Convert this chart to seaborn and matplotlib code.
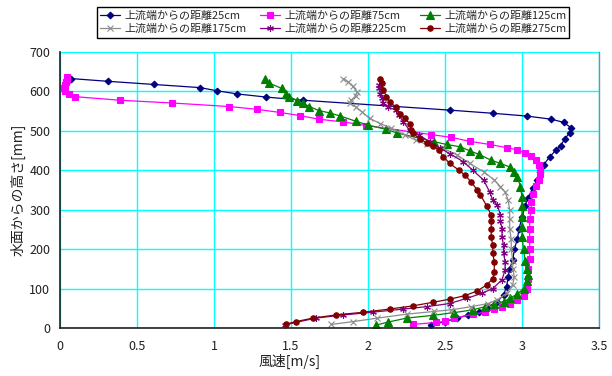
import matplotlib
matplotlib.use("Agg")
import matplotlib.pyplot as plt
import seaborn as sns
import pandas as pd

# Wind speed [m/s] and height above the water surface [mm] at each measuring station
speed_25 = [2.41, 2.50, 2.58, 2.65, 2.72, 2.78, 2.84, 2.88, 2.90, 2.91, 2.92, 2.94, 2.95, 2.97, 2.98,
            3.00, 3.02, 3.04, 3.07, 3.10, 3.12, 3.14, 3.18, 3.22, 3.25, 3.28, 3.31, 3.32, 3.27, 3.19,
            3.03, 2.81, 2.53, 1.58, 1.34, 1.15, 1.02, 0.91, 0.61, 0.31, 0.07]
height_25 = [8, 16, 25, 33, 41, 54, 67, 84, 105, 130, 150, 172, 200, 225, 250,
             280, 310, 330, 355, 375, 395, 413, 434, 450, 462, 480, 495, 507, 521, 529,
             537, 544, 552, 577, 585, 593, 601, 609, 617, 625, 632]

speed_75 = [2.29, 2.44, 2.50, 2.56, 2.68, 2.76, 2.82, 2.87, 2.92, 2.97, 3.01, 3.03, 3.04, 3.04, 3.05,
            3.05, 3.05, 3.05, 3.05, 3.06, 3.06, 3.07, 3.09, 3.11, 3.12, 3.12, 3.11, 3.09, 3.06, 3.02,
            2.97, 2.90, 2.79, 2.66, 2.54, 2.41, 1.99, 1.84, 1.68, 1.56, 1.43, 1.28, 1.10, 0.73, 0.39,
            0.10, 0.06, 0.035, 0.028, 0.03, 0.04, 0.045, 0.047]
height_75 = [9, 14, 17, 25, 35, 40, 48, 54, 62, 71, 80, 100, 125, 150, 175,
             200, 225, 250, 275, 300, 320, 340, 360, 375, 390, 400, 412, 425, 435, 443,
             451, 457, 465, 473, 483, 490, 513, 522, 529, 538, 546, 554, 561, 570, 577,
             586, 594, 601, 608, 615, 622, 628, 635]

speed_125 = [2.05, 2.13, 2.25, 2.42, 2.56, 2.68, 2.76, 2.82, 2.88, 2.92, 2.97, 3.01, 3.03, 3.04, 3.03,
             3.02, 3.01, 3.00, 3.00, 3.00, 3.00, 3.00, 2.99, 2.97, 2.95, 2.92, 2.86, 2.80, 2.72, 2.66,
             2.60, 2.51, 2.43, 2.19, 2.12, 2.00, 1.92, 1.82, 1.75, 1.68, 1.62, 1.58, 1.54, 1.49, 1.47,
             1.44, 1.36, 1.33]
height_125 = [7, 15, 25, 32, 39, 46, 54, 60, 67, 75, 86, 100, 118, 134, 150,
              170, 200, 230, 255, 280, 310, 332, 358, 383, 396, 408, 417, 425, 440, 449,
              459, 465, 472, 494, 503, 514, 524, 537, 545, 551, 561, 569, 576, 586, 594,
              607, 620, 632]

speed_175 = [1.76, 1.90, 2.06, 2.25, 2.43, 2.54, 2.67, 2.78, 2.84, 2.90, 2.94, 2.95, 2.94, 2.94, 2.93,
             2.93, 2.92, 2.92, 2.92, 2.91, 2.89, 2.86, 2.82, 2.75, 2.66, 2.58, 2.49, 2.38, 2.31, 2.24,
             2.15, 2.08, 2.01, 1.96, 1.92, 1.88, 1.89, 1.92, 1.93, 1.90, 1.87, 1.84]
height_175 = [9, 16, 25, 35, 42, 46, 54, 62, 71, 88, 110, 130, 150, 170, 200,
              225, 250, 275, 300, 324, 345, 358, 375, 396, 417, 438, 455, 465, 476, 489,
              506, 518, 531, 548, 560, 569, 577, 588, 598, 613, 624, 632]

speed_225 = [1.46, 1.66, 1.84, 2.03, 2.23, 2.38, 2.53, 2.64, 2.74, 2.81, 2.87, 2.89, 2.89, 2.88, 2.88,
             2.87, 2.87, 2.86, 2.86, 2.84, 2.81, 2.79, 2.75, 2.68, 2.62, 2.53, 2.47, 2.40, 2.33, 2.27,
             2.23, 2.20, 2.18, 2.13, 2.10, 2.09, 2.08, 2.07, 2.07]
height_225 = [8, 25, 33, 40, 48, 54, 62, 75, 88, 100, 122, 147, 168, 190, 210,
              230, 252, 270, 286, 311, 324, 345, 375, 400, 421, 442, 455, 472, 489, 501,
              522, 539, 552, 560, 569, 582, 594, 607, 615]

speed_275 = [1.47, 1.53, 1.64, 1.79, 1.97, 2.14, 2.29, 2.42, 2.53, 2.63, 2.71, 2.77, 2.81, 2.82, 2.82,
             2.81, 2.81, 2.80, 2.80, 2.80, 2.80, 2.77, 2.73, 2.71, 2.67, 2.63, 2.59, 2.53, 2.49, 2.46,
             2.42, 2.38, 2.34, 2.29, 2.28, 2.27, 2.24, 2.21, 2.18, 2.14, 2.12, 2.10, 2.09, 2.08]
height_275 = [10, 16, 25, 33, 40, 48, 56, 65, 73, 82, 94, 109, 125, 143, 168,
              190, 210, 230, 252, 270, 286, 310, 337, 349, 370, 387, 400, 417, 434, 451,
              461, 468, 480, 493, 501, 518, 531, 543, 560, 573, 586, 603, 620, 632]

labels = ["上流端からの距離25cm", "上流端からの距離75cm", "上流端からの距離125cm",
          "上流端からの距離175cm", "上流端からの距離225cm", "上流端からの距離275cm"]
speeds = [speed_25, speed_75, speed_125, speed_175, speed_225, speed_275]
heights = [height_25, height_75, height_125, height_175, height_225, height_275]

x_ticks = [0, 0.5, 1, 1.5, 2, 2.5, 3, 3.5]
y_ticks = [0, 100, 200, 300, 400, 500, 600, 700]

styles = [
    dict(color="#000080", marker="D", markersize=3.4),
    dict(color="#FF00FF", marker="s", markersize=4.0),
    dict(color="#008000", marker="^", markersize=5.2),
    dict(color="#8c8c8c", marker="x", markersize=4.8),
    dict(color="#800080", marker=(6, 2, 0), markersize=4.8),
    dict(color="#800000", marker="o", markersize=3.9),
]

sns.set_theme(style="white")
plt.rcParams["font.family"] = ["Noto Sans CJK JP", "DejaVu Sans"]

fig = plt.figure(figsize=(6.12, 3.76), dpi=100)
ax = fig.add_axes([60 / 612, 48 / 376, 539 / 612, 276.3 / 376])

for lab, xs, ys, st in zip(labels, speeds, heights, styles):
    df = pd.DataFrame({"speed": xs, "height": ys})
    sns.lineplot(data=df, x="speed", y="height", sort=False, estimator=None,
                 ax=ax, label=lab, color=st["color"], linewidth=0.9,
                 marker=st["marker"], markersize=st["markersize"],
                 markeredgecolor=st["color"], markerfacecolor=st["color"],
                 markeredgewidth=0.8)

leg = ax.get_legend()
if leg is not None:
    leg.remove()

ax.set_xlim(0, 3.5)
ax.set_ylim(0, 700)
ax.set_xticks(x_ticks)
ax.set_xticklabels([f"{v:g}" for v in x_ticks])
ax.set_yticks(y_ticks)
ax.set_yticklabels([str(v) for v in y_ticks])
ax.grid(True, color="#00FFFF", linewidth=1.0)
ax.set_axisbelow(True)

for side in ["left", "bottom"]:
    ax.spines[side].set_color("#202020")
    ax.spines[side].set_linewidth(1.2)
ax.spines["top"].set_visible(False)
ax.spines["right"].set_color("#8090a0")
ax.spines["right"].set_linewidth(1.0)

ax.tick_params(axis="both", labelsize=9, colors="#202020", length=3, width=0.8)
ax.tick_params(axis="y", direction="out", pad=4)
ax.tick_params(axis="x", direction="in", pad=9)

ax.set_xlabel("風速[m/s]", fontsize=10, color="#202020")
ax.xaxis.set_label_coords(230 / 539, -0.095)
ax.set_ylabel("水面からの高さ[mm]", fontsize=10, color="#202020")
ax.yaxis.set_label_coords(-0.064, 0.5)

handles, labs = ax.get_legend_handles_labels()
order = [0, 3, 1, 4, 2, 5]
fig.legend([handles[i] for i in order], [labs[i] for i in order],
           ncol=3, loc="upper center", bbox_to_anchor=(333 / 612, 0.995),
           fontsize=7.9, frameon=True, fancybox=False, edgecolor="black",
           framealpha=1.0, handlelength=1.8, handletextpad=0.4,
           columnspacing=1.25, borderpad=0.3, labelspacing=0.3)
fig.legends[0].get_frame().set_linewidth(1.0)

fig.savefig("out.png", dpi=100)
